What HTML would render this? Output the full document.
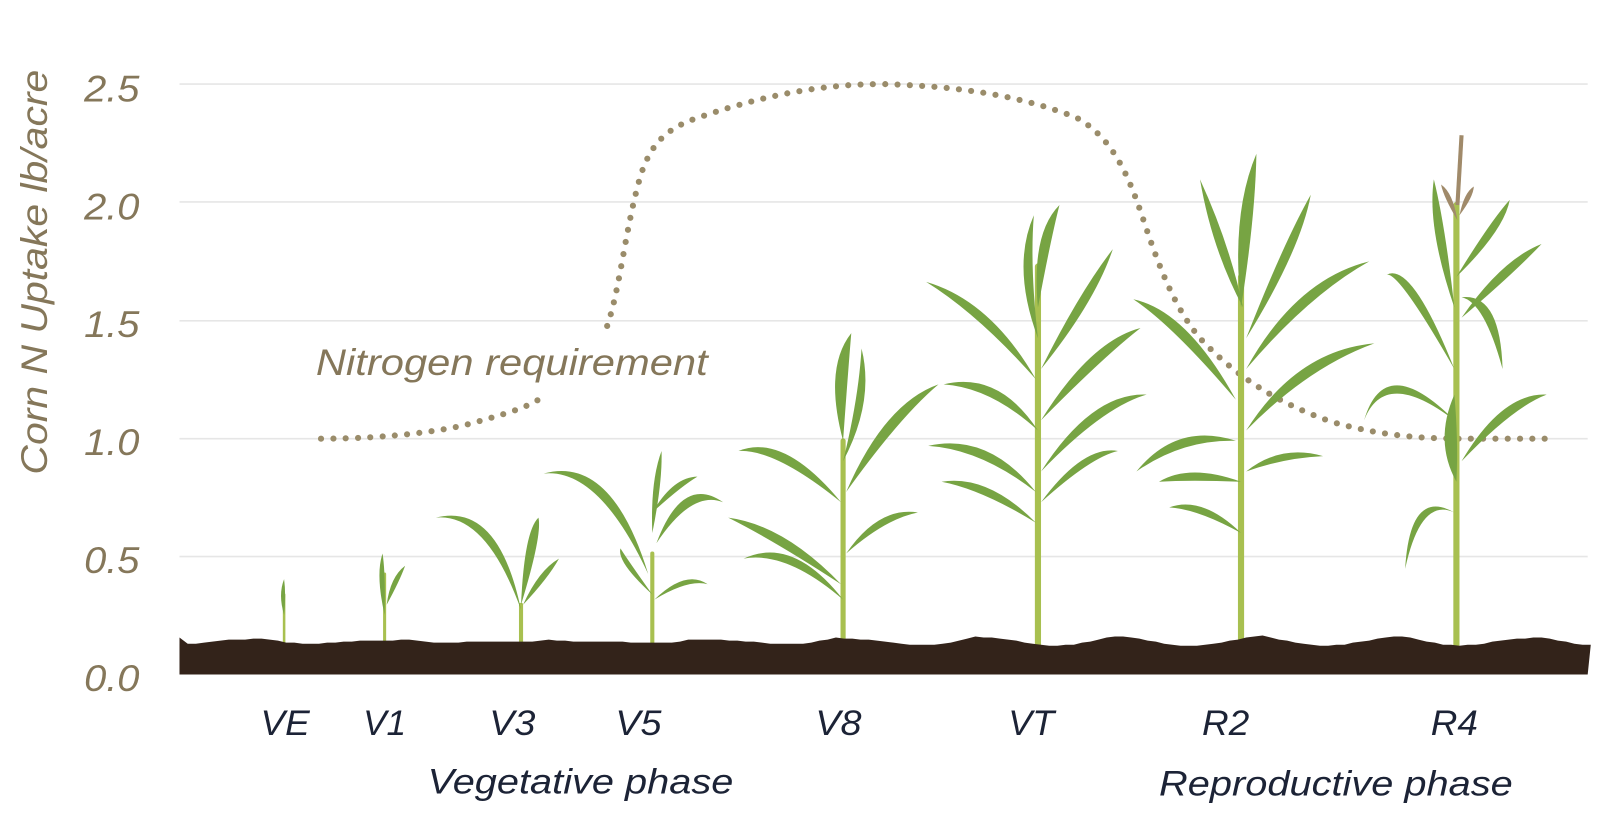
<!DOCTYPE html>
<html><head><meta charset="utf-8"><style>
html,body{margin:0;padding:0;background:#fff;width:1600px;height:820px;overflow:hidden}
svg{display:block}
.ax{font-family:"Liberation Sans",sans-serif;font-style:italic;fill:#85775a}
.st{font-family:"Liberation Sans",sans-serif;font-style:italic;fill:#1c2336}
</style></head><body>
<svg id="s" width="1600" height="820" viewBox="0 0 1560 800" preserveAspectRatio="none" xmlns="http://www.w3.org/2000/svg">
<g stroke="#e6e6e6" stroke-width="1.5">
<line x1="175" y1="82" x2="1548" y2="82"/><line x1="175" y1="197" x2="1548" y2="197"/>
<line x1="175" y1="313" x2="1548" y2="313"/><line x1="175" y1="428" x2="1548" y2="428"/>
<line x1="175" y1="543" x2="1548" y2="543"/>
</g>
<g class="ax" font-size="36">
<text x="82" y="99" textLength="54" lengthAdjust="spacingAndGlyphs">2.5</text><text x="82" y="214" textLength="54" lengthAdjust="spacingAndGlyphs">2.0</text><text x="82" y="329" textLength="54" lengthAdjust="spacingAndGlyphs">1.5</text>
<text x="82" y="444" textLength="54" lengthAdjust="spacingAndGlyphs">1.0</text><text x="82" y="559" textLength="54" lengthAdjust="spacingAndGlyphs">0.5</text><text x="82" y="674" textLength="54" lengthAdjust="spacingAndGlyphs">0.0</text>
</g>
<text class="ax" font-size="36" transform="translate(46,463) rotate(-90)" textLength="395" lengthAdjust="spacingAndGlyphs">Corn N Uptake lb/acre</text>
<text class="ax" font-size="36" x="308" y="366" textLength="382" lengthAdjust="spacingAndGlyphs">Nitrogen requirement</text>
<path d="M313,428 C380,428 440,420 470,410 C500,402 520,395 532,385" fill="none" stroke="#9a8c6a" stroke-width="6" stroke-linecap="round" stroke-dasharray="0 12"/>
<path d="M592,318 C605,280 610,220 625,170 C635,140 650,125 680,115 C730,98 790,82 860,82 C940,84 1000,95 1050,115 C1085,135 1100,170 1115,215 C1130,260 1145,300 1170,330 C1200,362 1240,392 1300,412 C1350,426 1390,428 1430,428 L1515,428" fill="none" stroke="#9a8c6a" stroke-width="6" stroke-linecap="round" stroke-dasharray="0 12"/>
<g id="plants"></g>
<path id="soil" fill="#33231a"/>
<g class="st" font-size="34">
<text x="254" y="717" textLength="48" lengthAdjust="spacingAndGlyphs">VE</text><text x="354" y="717" textLength="42" lengthAdjust="spacingAndGlyphs">V1</text><text x="477" y="717" textLength="45" lengthAdjust="spacingAndGlyphs">V3</text>
<text x="600" y="717" textLength="45" lengthAdjust="spacingAndGlyphs">V5</text><text x="795" y="717" textLength="45" lengthAdjust="spacingAndGlyphs">V8</text><text x="983" y="717" textLength="45" lengthAdjust="spacingAndGlyphs">VT</text>
<text x="1172" y="717" textLength="46" lengthAdjust="spacingAndGlyphs">R2</text><text x="1395" y="717" textLength="46" lengthAdjust="spacingAndGlyphs">R4</text>
<text x="417" y="774" textLength="298" lengthAdjust="spacingAndGlyphs">Vegetative phase</text><text x="1130" y="776" textLength="345" lengthAdjust="spacingAndGlyphs">Reproductive phase</text>
</g>
</svg>
<script>
var g=document.getElementById('plants'),NS='http://www.w3.org/2000/svg';
function el(t,a){var e=document.createElementNS(NS,t);for(var k in a)e.setAttribute(k,a[k]);g.appendChild(e);return e;}
function leaf(b,c,t,w,col){var dx=t[0]-b[0],dy=t[1]-b[1],L=Math.hypot(dx,dy)||1,nx=-dy/L*w,ny=dx/L*w;
el('path',{d:'M'+b[0]+','+b[1]+' Q'+(c[0]+nx)+','+(c[1]+ny)+' '+t[0]+','+t[1]+' Q'+(c[0]-nx)+','+(c[1]-ny)+' '+b[0]+','+b[1]+'Z',fill:col||'#77a443'});}
function stem(x,y0,y1,w){el('line',{x1:x,y1:y0,x2:x,y2:y1,stroke:'#a8c050','stroke-width':w,'stroke-linecap':'round'});}
var P=[
[277,630,580,2.5,[[[277,600],[275,580],[277,565],4]]],
[375,630,560,3,[[[375,600],[371,560],[373,540],5],[[377,590],[385,565],[395,552],5]]],
[508,630,590,4,[[[508,595],[480,495],[425,505],8],[[508,590],[520,520],[525,505],9],[[510,590],[530,560],[545,545],6]]],
[636,630,540,4,[[[632,560],[590,450],[530,462],9],[[636,520],[640,470],[645,440],6],[[640,530],[670,470],[705,490],9],[[636,580],[605,545],[605,535],5],[[638,585],[670,560],[690,570],5],[[636,500],[660,470],[680,465],6]]],
[822,635,430,5,[[[820,490],[760,430],[720,440],9],[[822,430],[815,360],[830,325],12],[[825,480],[870,400],[915,375],10],[[820,570],[760,520],[710,505],9],[[822,585],[770,530],[725,545],8],[[825,540],[860,500],[895,500],7],[[822,450],[845,390],[840,340],8]]],
[1012,635,260,6,[[[1010,370],[960,300],[903,275],9],[[1012,300],[1015,230],[1033,200],10],[[1015,360],[1060,290],[1085,243],9],[[1012,420],[970,370],[920,375],9],[[1015,410],[1070,340],[1112,320],10],[[1010,480],[960,430],[905,435],9],[[1015,460],[1070,390],[1118,385],9],[[1010,510],[960,470],[918,470],8],[[1015,490],[1060,440],[1090,440],7],[[1012,330],[995,260],[1008,210],9]]],
[1210,635,270,6,[[[1205,390],[1150,310],[1105,292],10],[[1210,300],[1212,210],[1225,150],12],[[1212,300],[1190,240],[1170,175],9],[[1215,330],[1260,240],[1278,190],9],[[1215,360],[1270,280],[1335,255],10],[[1205,430],[1150,420],[1108,460],9],[[1215,420],[1270,350],[1340,335],10],[[1210,470],[1160,460],[1130,470],8],[[1215,460],[1250,440],[1290,445],7],[[1210,520],[1170,490],[1140,495],7]]],
[1420,635,200,6,[[[1418,300],[1400,220],[1398,175],9],[[1420,270],[1460,220],[1472,195],8],[[1425,310],[1470,260],[1503,238],9],[[1418,360],[1370,260],[1352,268],8],[[1425,290],[1455,290],[1465,360],9],[[1418,410],[1350,350],[1330,410],8],[[1425,450],[1470,390],[1508,385],9],[[1418,500],[1380,480],[1370,555],7],[[1420,470],[1410,430],[1418,385],12]]]
];
P.forEach(function(p){stem(p[0],p[1],p[2],p[3]);p[4].forEach(function(l){leaf(l[0],l[1],l[2],l[3]);});});
el('line',{x1:1421,y1:200,x2:1425,y2:132,stroke:'#a08a6a','stroke-width':4});
leaf([1421,215],[1412,190],[1405,180],5,'#a08a6a');leaf([1423,210],[1432,190],[1437,182],5,'#a08a6a');
var d='M175,658 L175,622',x=175;
while(x<1548){x+=8;var y=622+Math.round(Math.abs(Math.sin(x*0.37))*6+Math.sin(x*0.05)*2);d+=' L'+x+','+y;}
d+=' L1548,658 Z';document.getElementById('soil').setAttribute('d',d);
</script>
</body></html>
